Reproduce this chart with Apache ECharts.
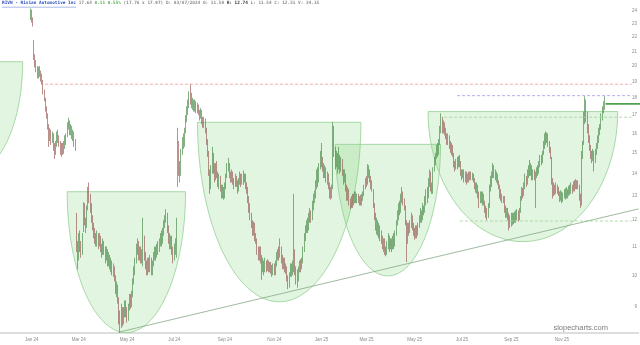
<!DOCTYPE html>
<html><head><meta charset="utf-8">
<script src="https://cdn.jsdelivr.net/npm/echarts@6/dist/echarts.min.js"></script>
<style>html,body{margin:0;padding:0;background:#fff}#c{width:640px;height:345px}</style>
</head><body><div id="c"></div>
<script>
// Daily candles [open, close, low, high], first candle 2023-12-29
const candlesPart1 = [
[23.5,24.0,23.3,24.2],[23.9,23.4,23.1,24.1],[23.3,22.9,22.8,23.5],[21.6,20.6,20.4,21.8],[20.6,20.2,19.9,20.8],
[20.2,19.8,19.6,20.4],[19.8,19.4,19.2,20.0],[19.4,19.8,19.2,19.95],[19.8,19.6,19.3,20.0],[19.6,19.3,19.0,19.7],
[19.3,19.0,18.8,19.5],[19.0,18.4,18.2,19.1],[18.4,17.9,17.8,18.5],[17.9,17.4,17.2,18.0],[17.4,16.9,16.8,17.5],
[16.9,16.4,16.2,17.1],[16.4,15.8,15.3,16.5],[15.8,16.0,15.6,16.3],[16.0,15.7,15.4,16.2],[15.7,15.9,15.5,16.1],
[15.9,15.3,15.1,16.0],[15.3,15.0,14.7,15.5],[15.0,15.4,14.9,15.6],[15.4,15.9,15.3,16.1],[15.9,15.7,15.5,16.2],
[15.7,15.5,15.3,15.9],[15.5,15.1,14.9,15.6],[15.1,15.3,14.8,15.5],[15.3,15.0,14.9,15.5],[15.0,15.4,14.95,15.6],
[15.4,15.6,15.2,15.9],[15.6,15.9,15.4,16.0],[15.9,16.4,15.8,16.6],[16.4,16.6,16.2,16.85],[16.6,16.1,15.9,16.7],
[16.1,16.3,15.9,16.5],[16.3,15.9,15.7,16.4],[15.9,16.0,15.6,16.2],[16.0,15.5,15.3,16.1],[15.5,15.2,15.1,15.7],
[11.6,11.0,10.8,12.3],[11.0,10.6,10.2,11.2],[10.6,11.3,10.5,11.5],[11.3,11.0,10.8,11.6],[11.0,10.8,10.6,11.2],
[10.8,11.4,10.7,11.5],[11.58,12.51,11.54,12.74],[12.5,12.0,11.8,12.7],[12.0,11.8,11.5,12.1],[11.8,12.4,11.7,12.6],
[12.5,13.2,12.4,13.4],[13.2,12.9,12.7,13.6],[12.9,12.5,12.3,13.1],[12.5,12.0,11.9,12.7],[12.0,11.8,11.6,12.2],
[11.8,11.5,11.3,11.9],[11.5,11.3,11.1,11.7],[11.3,11.2,11.0,11.5],[11.2,11.4,11.0,11.6],[11.4,11.1,10.9,11.5],
[11.1,11.3,11.0,11.5],[11.3,11.0,10.8,11.4],[11.0,10.8,10.6,11.1],[10.8,11.1,10.7,11.3],[11.1,10.9,10.7,11.2],
[10.9,10.6,10.4,11.0],[10.6,10.8,10.5,11.0],[10.8,10.5,10.3,10.9],[10.5,10.6,10.3,10.8],[10.6,10.3,10.2,10.7],
[10.3,10.4,10.1,10.6],[10.4,10.1,10.0,10.5],[10.1,10.2,9.95,10.4],[10.2,9.9,9.8,10.3],[9.9,9.5,9.4,10.0],
[9.5,9.6,9.3,9.8],[9.6,9.2,9.1,9.7],[9.2,8.7,8.5,9.3],[8.7,8.5,8.26,8.9],[8.5,8.9,8.4,9.1],
[8.9,8.6,8.45,9.0],[8.6,8.8,8.5,9.0],[8.8,9.1,8.7,9.2],[9.1,8.9,8.7,9.2],[8.9,8.7,8.55,9.0],
[8.7,9.0,8.6,9.1],[9.0,9.3,8.9,9.4],[9.3,9.1,8.95,9.4],[9.1,9.4,9.0,9.5],[9.4,9.8,9.3,9.9],
[9.8,10.2,9.7,10.3],[10.2,10.5,10.0,10.6],[10.5,10.9,10.4,11.1],[10.9,11.1,10.7,11.3],[11.1,10.7,10.5,11.2],
[10.7,10.9,10.5,11.0],[10.9,10.6,10.4,11.0],[10.6,10.8,10.4,10.9],[10.8,11.3,10.3,12.1],[11.3,10.7,10.5,11.4]
];
const candlesPart2 = [
[10.7,10.4,10.2,10.8],[10.4,10.2,10.0,10.5],[10.2,10.4,10.0,10.6],[10.4,10.3,10.1,10.6],[10.3,10.5,10.1,10.7],
[10.5,10.2,10.0,10.6],[10.2,10.4,10.0,10.5],[10.4,10.6,10.3,10.8],[10.6,10.8,10.5,11.0],[10.8,10.7,10.5,11.0],
[10.7,11.0,10.6,11.1],[11.0,10.9,10.7,11.2],[10.9,11.2,10.8,11.3],[11.2,11.4,11.0,11.5],[11.4,11.2,11.0,11.6],
[11.2,11.6,11.1,11.7],[11.6,11.8,11.4,12.0],[11.8,12.1,11.7,12.2],[12.1,12.2,11.9,12.45],[12.2,11.7,11.5,12.3],
[11.7,11.3,11.1,11.8],[11.3,11.1,10.9,11.5],[11.1,11.3,10.9,11.4],[11.3,10.9,10.7,11.4],[10.9,10.6,10.4,11.0],
[10.6,10.9,10.5,11.1],[10.9,11.1,10.7,11.3],[11.1,11.9,10.6,12.1],[14.8,15.4,13.4,16.3],[15.4,14.4,13.9,15.6],
[14.4,14.0,13.6,14.6],[14.0,15.0,13.9,15.2],[15.0,15.6,14.9,15.8],[15.6,15.4,15.2,16.0],[15.4,16.1,15.3,16.3],
[16.1,16.8,16.0,17.0],[16.8,17.3,16.6,17.5],[17.3,17.6,17.0,17.9],[17.6,18.2,17.4,18.4],[18.2,18.0,17.6,18.86],
[18.0,17.6,17.4,18.3],[17.6,17.8,17.3,18.0],[17.8,17.4,17.2,17.9],[17.4,17.7,17.2,17.9],[17.7,17.3,17.1,17.8],
[17.3,17.5,17.1,17.7],[17.5,17.2,17.0,17.6],[17.2,16.9,16.7,17.3],[16.9,17.2,16.8,17.4],[17.2,16.8,16.5,17.3],
[16.8,16.5,16.3,16.9],[16.5,16.7,16.3,16.9],[16.7,16.2,16.0,16.8],[16.2,15.6,15.4,16.3],[15.6,15.0,14.8,15.7],
[15.0,14.1,13.9,15.1],[14.1,13.4,13.1,14.2],[13.4,14.2,13.3,14.4],[14.2,14.8,14.0,15.3],[14.8,14.3,14.0,15.0],
[14.3,13.9,13.6,14.5],[13.9,14.3,13.7,14.5],[14.3,14.0,13.8,14.6],[14.0,13.6,13.4,14.1],[13.6,13.8,13.3,14.0],
[13.8,13.4,13.2,13.9],[13.4,13.1,12.9,13.5],[13.1,13.3,12.9,13.5],[13.3,13.0,12.85,13.4],[13.0,13.4,12.9,13.6],
[13.4,13.9,13.3,14.0],[13.9,14.3,13.8,14.5],[14.3,14.4,14.1,14.75],[14.4,14.0,13.8,14.5],[14.0,13.8,13.6,14.1],
[13.8,14.0,13.6,14.2],[14.0,13.7,13.5,14.1],[13.7,13.5,13.3,13.8],[13.5,13.8,13.4,14.0],[13.8,13.6,13.4,13.9],
[13.6,13.3,13.1,13.7],[13.3,13.6,13.2,13.8],[13.6,13.9,13.5,14.1],[13.9,13.6,13.4,14.0],[13.6,13.9,13.5,14.0],
[13.9,13.7,13.5,14.15],[13.7,13.9,13.6,14.0],[13.9,13.5,13.3,14.0],[13.5,13.3,13.1,13.6],[13.3,12.9,12.7,13.4],
[12.9,12.5,12.3,13.0],[12.5,12.2,12.0,12.7],[12.2,11.9,11.7,12.3],[11.9,11.6,11.4,12.0],[11.6,11.8,11.4,11.95],
[11.8,11.4,11.2,11.9],[11.4,11.2,11.1,11.5],[11.2,10.9,10.7,11.3],[10.9,10.7,10.5,11.0],[10.7,10.9,10.5,11.0]
];
const candlesPart3 = [
[10.9,10.6,10.4,11.0],[10.6,10.2,9.85,10.7],[10.2,10.4,10.1,10.6],[10.4,10.2,10.0,10.5],[10.2,10.4,10.1,10.6],
[10.4,10.3,10.1,10.5],[10.3,10.4,10.15,10.55],[10.4,10.2,10.1,10.5],[10.2,10.35,10.1,10.45],[10.35,10.2,10.05,10.45],
[10.2,10.1,9.95,10.35],[10.1,10.3,10.0,10.4],[10.3,10.1,10.0,10.4],[10.1,10.4,10.0,10.5],[10.4,10.6,10.3,10.8],
[10.6,10.8,10.5,10.9],[10.8,10.7,10.5,11.0],[10.7,10.9,10.6,11.3],[10.9,10.6,10.4,11.0],[10.6,10.4,10.2,10.7],
[10.4,10.5,10.2,10.6],[10.5,10.3,10.1,10.6],[10.3,10.2,10.05,10.4],[10.2,9.9,9.8,10.3],[9.9,9.7,9.55,10.0],
[9.7,10.0,9.6,10.1],[10.0,10.2,9.95,10.4],[10.2,10.1,9.95,10.4],[10.1,10.3,10.0,10.5],[10.3,10.8,10.1,13.1],
[10.8,10.2,10.0,10.9],[10.2,9.9,9.7,10.3],[9.9,10.0,9.6,10.2],[10.0,10.2,9.8,10.3],[10.2,10.4,10.1,10.5],
[10.4,10.3,10.1,10.55],[10.3,10.5,10.2,10.6],[10.5,10.9,10.4,11.0],[10.9,11.3,10.8,11.5],[11.3,11.7,11.2,11.8],
[11.7,11.9,11.5,12.0],[11.9,11.7,11.5,12.1],[11.7,12.1,11.6,12.3],[12.1,12.3,11.9,12.5],[12.3,12.1,11.9,12.4],
[12.1,12.6,12.0,12.8],[12.6,12.9,12.4,13.1],[12.9,13.0,12.7,13.25],[13.0,13.5,12.9,13.7],[13.5,14.0,13.3,14.2],
[14.0,13.7,13.4,14.3],[13.7,14.3,13.6,14.5],[14.3,14.9,14.2,15.1],[14.9,14.6,14.3,15.5],[14.6,14.3,14.1,14.8],
[14.3,14.0,13.8,14.5],[14.0,14.2,13.8,14.4],[14.2,13.8,13.6,14.3],[13.8,13.9,13.5,14.1],[13.9,13.5,13.3,14.0],
[13.5,13.2,12.9,13.6],[13.2,13.0,12.85,13.4],[13.0,13.3,12.9,13.5],[13.4,16.2,13.3,16.6],[16.2,15.2,14.8,16.4],
[15.2,14.6,14.2,15.3],[14.6,14.9,14.3,15.1],[14.9,14.4,14.0,15.0],[14.4,14.8,14.2,15.3],[14.8,14.3,14.0,14.9],
[14.3,14.6,14.1,14.8],[14.6,14.1,13.9,14.7],[14.1,13.8,13.5,14.2],[13.8,14.0,13.6,14.2],[14.0,13.4,13.2,14.0],
[13.4,13.0,12.8,13.5],[13.0,13.2,12.8,13.4],[13.2,12.8,12.6,13.3],[12.8,12.6,12.45,12.9],[12.6,12.9,12.5,13.0],
[12.9,12.7,12.5,13.1],[12.7,12.9,12.6,13.1],[12.9,13.1,12.7,13.2],[13.1,12.8,12.7,13.2],[12.8,13.0,12.7,13.1],
[13.0,12.8,12.7,13.1],[12.8,12.9,12.6,13.0],[12.9,12.7,12.6,13.05],[12.7,12.9,12.6,13.1],[12.9,13.1,12.8,13.2],
[13.1,13.4,13.0,13.5],[13.4,13.7,13.3,13.8],[13.7,13.6,13.4,13.9],[13.6,14.0,13.5,14.45],[14.0,14.1,13.8,14.4],
[14.1,13.8,13.6,14.2],[13.8,13.5,13.3,13.9],[13.5,13.3,13.2,13.7],[13.3,12.6,12.5,13.3],[12.6,12.2,12.0,12.7]
];
const candlesPart4 = [
[12.2,11.8,11.6,12.3],[11.8,11.9,11.45,12.1],[11.9,11.6,11.4,12.0],[11.6,11.7,11.3,11.9],[11.7,11.4,11.2,11.8],
[11.4,11.3,11.1,11.6],[11.3,11.0,10.9,11.4],[11.0,11.2,10.8,11.3],[11.2,10.9,10.7,11.3],[10.9,10.8,10.65,11.0],
[10.8,11.1,10.7,11.2],[11.1,11.3,10.9,11.5],[11.3,11.0,10.8,11.4],[11.0,11.2,10.9,11.3],[11.2,11.0,10.8,11.3],
[11.0,11.3,10.9,11.4],[11.3,11.1,10.9,11.5],[11.1,11.5,11.0,11.6],[11.5,11.9,11.4,12.0],[11.9,12.2,11.8,12.4],
[12.2,12.5,12.0,12.7],[12.5,12.4,12.2,12.8],[12.4,12.9,12.3,13.1],[12.9,13.1,12.7,13.4],[13.1,12.8,12.6,13.2],
[12.8,12.5,12.4,12.9],[12.5,12.0,11.8,12.6],[12.0,11.3,10.45,12.0],[11.3,11.8,11.1,11.9],[11.8,11.6,11.4,11.9],
[11.6,11.9,11.5,12.0],[11.9,12.1,11.7,12.3],[12.1,11.8,11.6,12.2],[11.8,11.6,11.4,11.9],[11.6,11.4,11.25,11.7],
[11.4,11.7,11.3,11.8],[11.7,11.5,11.3,11.8],[11.5,11.8,11.4,11.9],[11.8,12.1,11.7,12.2],[12.1,12.3,11.9,12.5],
[12.3,12.1,11.9,12.4],[12.1,12.5,12.0,12.7],[12.5,12.4,12.2,12.6],[12.4,12.8,12.3,13.0],[12.8,13.1,12.6,13.3],
[13.1,13.0,12.7,13.4],[13.0,13.6,12.9,13.8],[13.6,14.0,13.4,14.2],[14.0,13.4,13.2,14.1],[13.4,13.2,13.1,13.6],
[13.2,14.2,13.1,14.3],[14.2,14.6,14.1,14.8],[14.6,14.9,14.4,15.0],[14.9,15.2,14.7,15.4],[15.2,15.0,14.8,15.5],
[15.0,15.5,14.9,15.7],[15.5,16.2,15.4,16.4],[16.2,16.7,16.0,17.1],[16.7,16.3,16.0,16.9],[16.3,16.5,16.0,16.7],
[16.5,16.1,15.9,16.6],[16.1,15.9,15.7,16.3],[15.9,15.6,15.4,16.0],[15.6,15.8,15.4,16.0],[15.8,15.4,15.2,15.9],
[15.4,15.2,15.0,15.6],[15.2,15.3,14.9,15.5],[15.3,14.9,14.8,15.4],[14.9,14.5,14.3,15.0],[14.5,14.3,14.1,14.6],
[14.3,14.6,14.2,14.7],[14.6,14.4,14.2,14.8],[14.4,14.7,14.3,14.85],[14.7,14.5,14.3,14.9],[14.5,14.1,13.9,14.6],
[14.1,13.9,13.7,14.2],[13.9,14.1,13.8,14.2],[14.1,13.8,13.6,14.2],[13.8,14.0,13.6,14.1],[14.0,13.7,13.5,14.1],
[13.7,13.9,13.6,14.0],[13.9,13.8,13.6,14.1],[13.8,14.0,13.7,14.1],[14.0,13.8,13.7,14.1],[13.8,13.9,13.7,14.05],
[13.9,13.7,13.6,14.0],[13.7,13.5,13.3,13.8],[13.5,13.3,13.15,13.6],[13.3,13.4,13.1,13.6],[13.4,13.1,12.9,13.5],
[13.1,12.8,12.5,13.2],[12.8,13.1,12.7,13.2],[13.1,12.9,12.7,13.2],[12.9,13.0,12.6,13.2],[13.0,12.7,12.6,13.1],
[12.7,12.5,12.3,12.8],[12.5,12.3,12.1,12.6],[12.3,12.2,12.0,12.5],[12.2,12.6,12.1,12.7],[12.6,13.4,12.5,13.5]
];
const candlesPart5 = [
[13.4,13.6,13.2,13.9],[13.6,13.9,13.4,14.1],[13.9,14.2,13.8,14.5],[14.2,14.0,13.8,14.4],[14.0,13.8,13.7,14.2],
[13.8,13.9,13.6,14.1],[13.9,13.6,13.5,14.0],[13.6,13.4,13.3,13.7],[13.4,13.1,12.9,13.5],[13.1,13.0,12.8,13.3],
[13.0,12.8,12.7,13.1],[12.8,12.9,12.7,13.0],[12.9,12.5,12.3,13.0],[12.5,12.3,12.1,12.6],[12.3,12.4,12.1,12.5],
[12.4,12.2,12.0,12.5],[12.2,11.9,11.6,12.3],[11.9,12.1,11.7,12.2],[12.1,11.9,11.75,12.3],[11.9,12.2,11.8,12.3],
[12.2,12.0,11.85,12.3],[12.0,12.2,11.9,12.35],[12.2,12.1,11.9,12.4],[12.1,12.3,12.0,12.45],[12.3,12.1,11.95,12.4],
[12.1,12.4,12.0,12.5],[12.4,12.9,12.3,13.0],[12.9,13.2,12.8,13.4],[13.2,13.1,12.9,13.35],[13.1,13.5,13.0,13.6],
[13.5,13.8,13.3,14.0],[13.8,13.6,13.4,13.9],[13.6,14.0,13.5,14.2],[14.0,14.3,13.8,14.4],[14.3,14.1,13.9,14.65],
[14.1,14.3,13.9,14.5],[14.3,13.9,13.7,14.4],[13.9,14.0,13.7,14.2],[14.0,13.8,13.7,14.2],[13.8,14.0,12.5,14.1],
[14.0,14.2,13.8,14.3],[14.2,14.1,13.9,14.4],[14.1,14.5,14.0,14.6],[14.5,14.7,14.3,14.9],[14.7,14.6,14.4,14.9],
[14.6,15.0,14.5,15.1],[15.0,15.4,14.9,15.6],[15.4,15.8,15.2,16.0],[15.8,15.7,15.4,16.1],[15.7,15.9,15.5,16.05],
[15.9,15.5,15.3,16.0],[15.5,15.2,15.0,15.6],[15.2,14.8,14.7,15.3],[14.8,13.7,13.5,14.8],[13.7,13.2,12.9,13.8],
[13.2,13.4,13.0,13.6],[13.4,13.2,13.05,13.5],[13.2,13.4,13.1,13.6],[13.4,13.3,13.1,13.5],[13.3,13.1,13.0,13.4],
[13.1,12.9,12.75,13.2],[12.9,13.1,12.8,13.25],[13.1,12.9,12.7,13.2],[12.9,13.0,12.75,13.15],[13.0,13.2,12.9,13.3],
[13.2,13.0,12.85,13.35],[13.0,13.2,12.9,13.4],[13.2,13.1,12.9,13.3],[13.1,13.3,13.0,13.45],[13.3,13.2,13.05,13.5],
[13.2,13.4,13.1,13.6],[13.4,13.3,13.1,13.5],[13.3,13.5,13.2,13.65],[13.5,13.4,13.2,13.7],[13.4,13.6,13.3,13.75],
[13.6,13.4,13.3,13.7],[13.4,13.5,13.3,13.7],[13.5,13.0,12.8,13.5],[13.0,12.7,12.5,13.1],[12.8,14.8,12.6,15.1],
[14.9,15.4,14.7,15.6],[15.5,16.8,15.4,17.2],[16.8,17.6,16.5,18.1],[17.6,16.9,16.6,17.9],[16.9,16.3,16.0,17.2],
[16.3,15.7,15.5,16.5],[15.7,15.3,15.1,15.9],[15.3,14.9,14.7,15.4],[14.9,14.7,14.5,15.1],[14.7,15.0,14.6,15.2],
[15.0,14.6,14.1,15.1],[14.6,15.0,14.5,15.2],[15.0,15.3,14.9,15.5],[15.3,15.7,15.2,15.9],[15.7,16.1,15.5,16.3],
[16.1,16.3,15.9,16.5],[16.3,16.9,16.2,17.1],[16.9,17.3,16.7,17.5],[17.3,17.5,17.1,17.8],[17.5,17.64,17.3,18.1]
];

// Axis / calendar
const firstCategoryDate = '2023-11-21';
const categoryCount = 555;
const leadingBlank = 26;
const holidays = ['2023-11-23','2023-12-25','2024-01-01','2024-01-15','2024-02-19','2024-03-29','2024-05-27',
  '2024-06-19','2024-07-04','2024-09-02','2024-11-28','2024-12-25','2025-01-01','2025-01-09','2025-01-20',
  '2025-02-17','2025-04-18','2025-05-26','2025-06-19','2025-07-04','2025-09-01','2025-11-27','2025-12-25','2026-01-01'];
const yTickPrices = [9,10,11,12,13,14,15,16,17,18,19,20,21,22,23,24];
const priceMin = 8.26, priceMax = 24.89;
const monthNames = ['Jan','Feb','Mar','Apr','May','Jun','Jul','Aug','Sep','Oct','Nov','Dec'];

// Drawings: cups [leftIndex, rightIndex, topPrice, bottomPrice] in category index units
const cups = [
  [-67.5, 19.2, 20.29, 14.10],
  [57.9, 160.8, 13.19, 8.27],
  [171.2, 313.2, 16.60, 9.16],
  [290.9, 382.4, 15.43, 9.98],
  [371.6, 536.4, 17.20, 11.18]
];
const trendLine = [[103.7, 8.29], [554.6, 12.46]];
const levelLines = [ // [price, fromIndex, toIndex, kind]
  [18.83, 38.6, 548.5, 'red'],
  [18.13, 396.8, 548.5, 'purple'],
  [16.88, 385.5, 548.5, 'green'],
  [11.97, 399.3, 548.5, 'green']
];
const lastPrice = 17.64;

const candles = [].concat(candlesPart1, candlesPart2, candlesPart3, candlesPart4, candlesPart5);

function tradingDays(start, n) {
  const out = [];
  const d = new Date(start + 'T12:00:00Z');
  while (out.length < n) {
    const wd = d.getUTCDay();
    const s = d.toISOString().slice(0, 10);
    if (wd !== 0 && wd !== 6 && holidays.indexOf(s) < 0) out.push(s);
    d.setUTCDate(d.getUTCDate() + 1);
  }
  return out;
}
const categories = tradingDays(firstCategoryDate, categoryCount);
const lastDataCat = leadingBlank + candles.length - 1;
const seriesData = candles.map((q, k) => [k + leadingBlank, Math.log(q[0]), Math.log(q[1]), Math.log(q[2]), Math.log(q[3])]);

const chart = echarts.init(document.getElementById('c'), null, {renderer: 'canvas'});
const mono = 'DejaVu Sans Mono';
chart.setOption({
  animation: false,
  backgroundColor: '#fff',
  title: {
    left: 2, top: 1, padding: 0,
    text: '{a|RIVN - Rivian Automotive Inc} {b|17.64} {g|0.11 0.55%} {b|(17.76 x 17.97) D: 03/07/2024 O: 11.58} {h|H: 12.74} {b|L: 11.54 C: 12.51 V: 34.15}',
    textStyle: {
      fontSize: 4.4, fontFamily: mono,
      rich: {
        a: {color: '#2b4fbf', fontSize: 4.4, fontFamily: mono, fontWeight: 'bold'},
        b: {color: '#8a8a8a', fontSize: 4.4, fontFamily: mono},
        g: {color: '#58b058', fontSize: 4.4, fontFamily: mono},
        h: {color: '#333', fontSize: 4.4, fontFamily: mono, fontWeight: 'bold'}
      }
    }
  },
  grid: {left: 0, right: 0, top: 0, bottom: 12},
  xAxis: {
    type: 'category', data: categories, boundaryGap: true,
    axisLine: {show: true, lineStyle: {color: '#d2d2d2', width: 1.5}},
    axisTick: {show: false},
    splitLine: {show: false},
    axisLabel: {
      fontSize: 4.5, color: '#8a8a8a', margin: 4, fontFamily: 'Liberation Sans',
      interval: function (i, v) {
        if (i < leadingBlank || i > lastDataCat) return false;
        const m = +v.slice(5, 7);
        if (m % 2 === 0) return false;
        const prev = categories[i - 1];
        return !prev || prev.slice(5, 7) !== v.slice(5, 7);
      },
      formatter: function (v) { return monthNames[+v.slice(5, 7) - 1] + ' ' + v.slice(2, 4); }
    }
  },
  yAxis: {
    type: 'value', position: 'right', scale: true,
    min: Math.log(priceMin), max: Math.log(priceMax),
    axisLine: {show: false}, axisTick: {show: false}, splitLine: {show: false},
    axisLabel: {
      inside: true, margin: 1.5, fontSize: 4.5, color: '#8a8a8a', fontFamily: 'Liberation Sans',
      customValues: yTickPrices.map(Math.log),
      formatter: function (v) { return String(Math.round(Math.exp(v))); }
    }
  },
  series: [{
    type: 'candlestick',
    data: seriesData,
    encode: {x: 0, y: [1, 2, 3, 4]},
    barWidth: 1,
    z: 2,
    itemStyle: {
      color: '#66b566', color0: '#d4867f',
      borderColor: '#4f8f4f', borderColor0: '#9c5f5a', borderWidth: 0.7
    }
  }]
});

// Drawings positioned through the chart's own scales
const x0 = chart.convertToPixel({xAxisIndex: 0}, 0);
const x1 = chart.convertToPixel({xAxisIndex: 0}, categoryCount - 1);
const step = (x1 - x0) / (categoryCount - 1);
const xAt = c => x0 + c * step;
const yAt = p => chart.convertToPixel({yAxisIndex: 0}, Math.log(p));

const graphics = [];
cups.forEach(function (c) {
  const xl = xAt(c[0]), xr = xAt(c[1]), yt = yAt(c[2]), yb = yAt(c[3]);
  const cx = (xl + xr) / 2, a = (xr - xl) / 2, b = yb - yt;
  const pts = [];
  for (let i = 0; i <= 72; i++) {
    const t = Math.PI * i / 72;
    pts.push([cx + a * Math.cos(t), yt + b * Math.sin(t)]);
  }
  graphics.push({type: 'polygon', silent: true, z: 1, shape: {points: pts},
    style: {fill: 'rgba(110,205,100,0.2)', stroke: '#93d093', lineWidth: 0.8}});
});
const dashColors = {red: '#f0a4a4', purple: '#a9a6ee', green: '#a9d9a2'};
levelLines.forEach(function (l) {
  const y = yAt(l[0]);
  graphics.push({type: 'line', silent: true, z: 3,
    shape: {x1: xAt(l[1]), y1: y, x2: xAt(l[2]), y2: y},
    style: {stroke: dashColors[l[3]], lineWidth: 0.9, lineDash: [3, 2]}});
});
graphics.push({type: 'line', silent: true, z: 3,
  shape: {x1: xAt(trendLine[0][0]), y1: yAt(trendLine[0][1]), x2: xAt(trendLine[1][0]), y2: yAt(trendLine[1][1])},
  style: {stroke: '#86a886', lineWidth: 0.8}});
graphics.push({type: 'line', silent: true, z: 4,
  shape: {x1: xAt(lastDataCat) + 1, y1: yAt(lastPrice), x2: 640, y2: yAt(lastPrice)},
  style: {stroke: '#4f9f4f', lineWidth: 1.8}});
graphics.push({type: 'line', silent: true, z: 4,
  shape: {x1: 2, y1: 7.2, x2: 76, y2: 7.2},
  style: {stroke: '#2b4fbf', lineWidth: 0.4}});
graphics.push({type: 'text', silent: true, z: 4, right: 32, top: 324,
  style: {text: 'slopecharts.com', fill: '#7c7c7c', font: '7.5px "Liberation Sans"'}});
chart.setOption({graphic: graphics});
</script></body></html>
